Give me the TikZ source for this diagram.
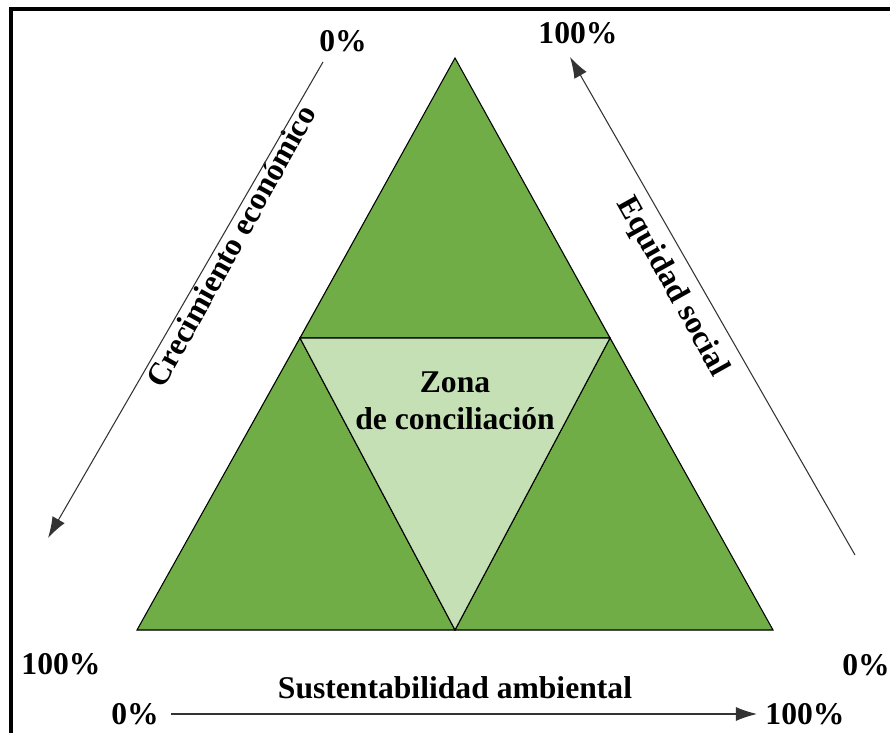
\documentclass[tikz,border=0pt]{standalone}
\usepackage{fontspec}
\setmainfont{Liberation Serif}
\usetikzlibrary{arrows.meta}
\definecolor{darkgreen}{HTML}{70AD47}
\definecolor{lightgreen}{HTML}{C5E0B4}
\tikzset{
  part/.style={draw=black,line width=0.6pt,line join=miter},
  axis/.style={-{Latex[length=12pt,width=8pt]},line width=0.6pt,black!80},
  lbl/.style={font=\fontsize{18}{20}\selectfont\bfseries,inner sep=0pt}
}
\begin{document}
\begin{tikzpicture}[x=0.02cm,y=-0.02cm]
  \useasboundingbox (0,0) rectangle (890,733);
  \clip (0,0) rectangle (890,733);
  \draw [line width=2.4pt] (11,9) rectangle (920,760); % frame
  \coordinate (A) at (455,58); % apex
  \coordinate (L) at (137,630); % base left
  \coordinate (R) at (773,630); % base right
  \coordinate (ML) at (300,338);
  \coordinate (MR) at (610,338);
  \coordinate (MB) at (455,630);
  \fill [darkgreen] (A) -- (L) -- (R) -- cycle; % outer triangle
  \draw [part,fill=darkgreen] (A) -- (ML) -- (MR) -- cycle; % top
  \draw [part,fill=darkgreen] (ML) -- (L) -- (MB) -- cycle; % left
  \draw [part,fill=darkgreen] (MR) -- (MB) -- (R) -- cycle; % right
  \draw [part,fill=lightgreen] (ML) -- (MR) -- (MB) -- cycle; % middle
  \node [lbl,align=center] (zona) at (455,401) {Zona\\[1pt]de conciliación};
  \node [lbl,rotate=60.9] (crec) at (231,246) {Crecimiento económico};
  \node [lbl,rotate=-60.9] (equi) at (672,287) {Equidad social};
  \node [lbl] (sust) at (455,688) {Sustentabilidad ambiental};
  % percentages
  \node [lbl] (l0) at (343,41) {0\%};
  \node [lbl] (l100) at (61,664) {100\%};
  \node [lbl] (r100) at (578,33) {100\%};
  \node [lbl] (r0) at (866,665) {0\%};
  \node [lbl] (b0) at (135,714) {0\%};
  \node [lbl] (b100) at (805,714) {100\%};
  % axes
  \coordinate (ls) at (323,62);
  \coordinate (le) at (48,538);
  \coordinate (rs) at (855,555);
  \coordinate (re) at (570,57);
  \draw [axis] (ls) -- (le); % crecimiento
  \draw [axis] (rs) -- (re); % equidad
  \draw [axis] (b0.east) ++(12,0) coordinate (bs) -- (757,714); % sustentabilidad
\end{tikzpicture}
\end{document}
